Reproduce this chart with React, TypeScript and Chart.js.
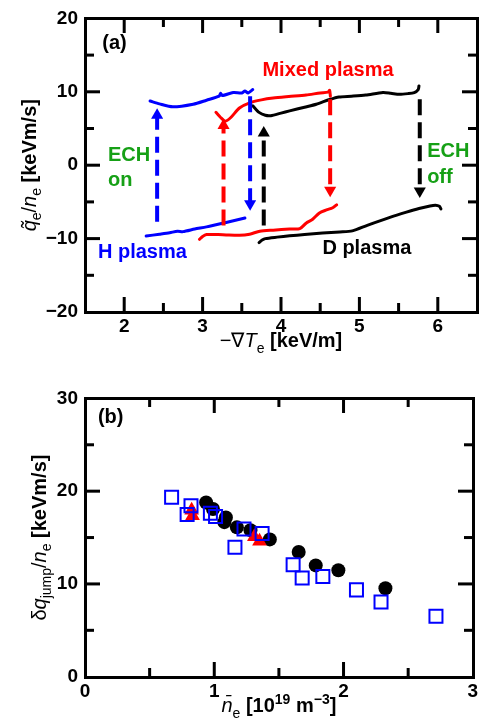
import React, { useEffect, useRef } from 'react';
import { Chart, registerables } from 'chart.js';

Chart.register(...registerables);

const FONT = '"Liberation Sans", Arial, Helvetica, sans-serif';
const BLUE = '#0000ff';
const RED = '#ff0000';
const BLACK = '#000000';
const GREEN = '#16a016';

// ---------- Panel (a): flux vs gradient curves ----------
const H_UP_X = [2.33, 2.45, 2.62, 2.88, 3.05, 3.21, 3.23, 3.25, 3.39, 3.5, 3.54, 3.58, 3.64];
const H_UP_Y = [8.75, 8.35, 7.95, 8.3, 8.85, 9.4, 9.8, 9.5, 9.9, 9.85, 10.1, 9.85, 10.3];
const H_LO_X = [2.28, 2.45, 2.58, 2.68, 2.75, 2.9, 3.05, 3.3, 3.54];
const H_LO_Y = [-9.65, -9.4, -9.2, -9.0, -9.05, -8.7, -8.4, -7.8, -7.2];
const M_UP_X = [3.17, 3.23, 3.29, 3.36, 3.47, 3.6, 3.75, 3.9, 4.1, 4.32, 4.5, 4.6, 4.62, 4.63];
const M_UP_Y = [7.2, 6.5, 6.0, 6.5, 7.8, 8.5, 8.9, 9.15, 9.35, 9.55, 9.85, 9.95, 10.2, 9.4];
const M_LO_X = [2.96, 3.0, 3.05, 3.2, 3.3, 3.47, 3.6, 3.73, 3.9, 4.11, 4.24, 4.32, 4.4, 4.49, 4.58, 4.66, 4.71];
const M_LO_Y = [-10.1, -9.7, -9.45, -9.45, -9.5, -9.55, -9.4, -9.0, -8.85, -8.7, -8.65, -7.9, -7.4, -6.5, -6.1, -5.8, -5.4];
const D_UP_X = [3.64, 3.72, 3.8, 3.87, 4.0, 4.11, 4.3, 4.45, 4.62, 4.74, 4.9, 5.08, 5.3, 5.4, 5.51, 5.62, 5.7, 5.75, 5.76];
const D_UP_Y = [8.1, 7.2, 6.8, 6.75, 7.1, 7.4, 7.9, 8.3, 8.95, 9.3, 9.4, 9.55, 9.9, 9.8, 9.65, 9.75, 9.9, 10.3, 10.8];
const D_LO_X = [3.72, 3.76, 3.8, 3.95, 4.11, 4.3, 4.53, 4.75, 4.91, 5.1, 5.38, 5.6, 5.76, 5.9, 5.97, 6.02, 6.04];
const D_LO_Y = [-10.55, -10.2, -10.0, -9.8, -9.62, -9.45, -9.25, -9.1, -8.95, -8.2, -7.15, -6.4, -5.9, -5.55, -5.45, -5.6, -5.95];

// ECH transition arrows
const ARROW_X = [2.42, 3.267, 3.606, 3.78, 4.627, 5.77];
const ARROW_FROM = [-7.7, -8.2, 9.4, -8.2, 9.0, 9.0];
const ARROW_TO = [6.8, 5.4, -5.25, 4.4, -3.4, -3.5];
const ARROW_COLOR = [BLUE, RED, BLUE, BLACK, RED, BLACK];

// ---------- Panel (b): jump vs density ----------
const H_NE = [0.67, 0.82, 0.79, 0.97, 1.01, 1.16, 1.23, 1.37, 1.61, 1.68, 1.84, 2.1, 2.29, 2.715];
const H_JUMP = [19.35, 18.42, 17.48, 17.62, 17.27, 13.95, 15.92, 15.43, 12.07, 10.63, 10.8, 9.36, 8.06, 6.51];
const D_NE = [0.937, 0.99, 1.09, 1.078, 1.175, 1.28, 1.43, 1.653, 1.785, 1.96, 2.324];
const D_JUMP = [18.78, 18.08, 17.17, 16.66, 16.1, 15.8, 14.8, 13.44, 12.0, 11.48, 9.53];
const M_NE = [0.825, 0.832, 1.31, 1.35];
const M_JUMP = [17.95, 17.35, 15.08, 14.6];

const zip = (xs: number[], ys: number[]) => xs.map((x, i) => ({ x, y: ys[i] }));
const fmtMinus = (v: number) => (v < 0 ? '\u2212' + Math.abs(v) : String(v));
const isInt = (v: number) => Math.abs(v - Math.round(v)) < 1e-6;

type Seg = { t: string; it?: boolean; b?: boolean; sub?: boolean; sup?: boolean };

function drawRich(ctx: CanvasRenderingContext2D, segs: Seg[], cx: number, cy: number, rot: number, size: number) {
  const small = Math.round(size * 0.7);
  const font = (s: Seg) => `${s.it ? 'italic ' : ''}${s.b ? 'bold ' : ''}${s.sub || s.sup ? small : size}px ${FONT}`;
  ctx.save();
  let total = 0;
  const widths = segs.map((s) => {
    ctx.font = font(s);
    const w = ctx.measureText(s.t).width;
    total += w;
    return w;
  });
  ctx.translate(cx, cy);
  ctx.rotate(rot);
  ctx.textBaseline = 'alphabetic';
  ctx.textAlign = 'left';
  ctx.fillStyle = '#000';
  let x = -total / 2;
  const base = size * 0.36;
  segs.forEach((s, i) => {
    ctx.font = font(s);
    const dy = s.sub ? size * 0.28 : s.sup ? -size * 0.42 : 0;
    ctx.fillText(s.t, x, base + dy);
    x += widths[i];
  });
  ctx.restore();
}

type Note = { text: string; x: number; y: number; color: string; align: CanvasTextAlign };

function makeDecor(opts: {
  xStep: number;
  yStep: number;
  xTitle: Seg[];
  yTitle: Seg[];
  xTitleDy: number;
  yTitleX: number;
  notes: Note[];
}) {
  return {
    id: 'decor',
    afterDraw(chart: any) {
      const ctx: CanvasRenderingContext2D = chart.ctx;
      const a = chart.chartArea;
      const xs = chart.scales.x;
      const ys = chart.scales.y;
      const L = Math.round(a.left);
      const R = Math.round(a.right);
      const T = Math.round(a.top);
      const B = Math.round(a.bottom);
      const W = 3;
      ctx.save();
      ctx.fillStyle = '#000000';
      // frame
      ctx.fillRect(L - 1, T - 1, R - L + W, W);
      ctx.fillRect(L - 1, B - 1, R - L + W, W);
      ctx.fillRect(L - 1, T - 1, W, B - T + W);
      ctx.fillRect(R - 1, T - 1, W, B - T + W);
      const MAJ = 15;
      const MIN = 9;
      for (let v = xs.min + opts.xStep; v < xs.max - 1e-9; v += opts.xStep) {
        const p = xs.getPixelForValue(v);
        const len = isInt(v / (opts.xStep * 2)) ? MAJ : MIN;
        ctx.fillRect(p - 1.5, B - len, W, len);
        ctx.fillRect(p - 1.5, T, W, len);
      }
      for (let v = ys.min + opts.yStep; v < ys.max - 1e-9; v += opts.yStep) {
        const p = ys.getPixelForValue(v);
        const len = Math.round(v) % (opts.yStep * 2) === 0 ? MAJ : MIN;
        ctx.fillRect(L, p - 1.5, len, W);
        ctx.fillRect(R - len, p - 1.5, len, W);
      }
      ctx.restore();

      drawRich(ctx, opts.xTitle, (a.left + a.right) / 2, a.bottom + opts.xTitleDy, 0, 20);
      drawRich(ctx, opts.yTitle, opts.yTitleX, (a.top + a.bottom) / 2, -Math.PI / 2, 20);

      ctx.save();
      ctx.font = `bold 20px ${FONT}`;
      ctx.textBaseline = 'middle';
      opts.notes.forEach((n) => {
        ctx.fillStyle = n.color;
        ctx.textAlign = n.align;
        ctx.fillText(n.text, xs.getPixelForValue(n.x), ys.getPixelForValue(n.y));
      });
      ctx.restore();
    },
  };
}

function baseScales(xMin: number, xMax: number, yMin: number, yMax: number, xH: number, xPad: number) {
  return {
    x: {
      type: 'linear' as const,
      min: xMin,
      max: xMax,
      grid: { display: false, drawTicks: false },
      border: { display: false },
      afterFit: (s: any) => {
        s.height = xH;
      },
      ticks: {
        stepSize: 0.5,
        autoSkip: false,
        maxRotation: 0,
        padding: xPad,
        color: '#000',
        font: { family: FONT, size: 19, weight: 'bold' as const },
        callback: (v: any) => (isInt(Number(v)) ? fmtMinus(Math.round(Number(v))) : ''),
      },
    },
    y: {
      type: 'linear' as const,
      min: yMin,
      max: yMax,
      grid: { display: false, drawTicks: false },
      border: { display: false },
      afterFit: (s: any) => {
        s.width = 85;
      },
      ticks: {
        stepSize: 5,
        autoSkip: false,
        padding: 7,
        color: '#000',
        font: { family: FONT, size: 19, weight: 'bold' as const },
        callback: (v: any) => (Math.round(Number(v)) % 10 === 0 ? fmtMinus(Math.round(Number(v))) : ''),
      },
    },
  };
}

const curve = (xs: number[], ys: number[], color: string) => ({
  data: zip(xs, ys),
  showLine: true,
  borderColor: color,
  borderWidth: 3,
  pointRadius: 0,
  tension: 0.25,
  borderCapStyle: 'round' as const,
  borderJoinStyle: 'round' as const,
  order: 5,
});

export default function App() {
  const refA = useRef<HTMLCanvasElement>(null);
  const refB = useRef<HTMLCanvasElement>(null);

  useEffect(() => {
    const arrows = ARROW_X.map((x, i) => {
      const up = ARROW_TO[i] > ARROW_FROM[i];
      return {
        data: [
          { x, y: ARROW_FROM[i] },
          { x, y: ARROW_TO[i] },
        ],
        showLine: true,
        borderColor: ARROW_COLOR[i],
        borderWidth: 4,
        borderDash: [16, 7],
        pointRadius: [0, 7],
        pointStyle: 'triangle',
        pointRotation: [0, up ? 0 : 180],
        pointBackgroundColor: ARROW_COLOR[i],
        pointBorderWidth: 0,
        order: 1,
      };
    });
    const chartA = new Chart(refA.current as HTMLCanvasElement, {
      type: 'scatter',
      data: {
        datasets: [
          ...arrows,
          curve(H_UP_X, H_UP_Y, BLUE),
          curve(H_LO_X, H_LO_Y, BLUE),
          curve(M_UP_X, M_UP_Y, RED),
          curve(M_LO_X, M_LO_Y, RED),
          curve(D_UP_X, D_UP_Y, BLACK),
          curve(D_LO_X, D_LO_Y, BLACK),
        ] as any,
      },
      options: {
        responsive: false,
        animation: false,
        events: [],
        layout: { padding: { top: 18, right: 6, left: 0, bottom: 0 } },
        plugins: { legend: { display: false }, tooltip: { enabled: false } },
        scales: baseScales(1.5, 6.5, -20, 20, 68, 3) as any,
      },
      plugins: [
        makeDecor({
          xStep: 0.5,
          yStep: 5,
          xTitle: [{ t: '\u2212\u2207' }, { t: 'T', it: true }, { t: 'e', sub: true }, { t: ' [keV/m]', b: true }],
          yTitle: [
            { t: 'q\u0303', it: true },
            { t: 'e', sub: true },
            { t: '/' },
            { t: 'n', it: true },
            { t: 'e', sub: true },
            { t: ' [keVm/s]', b: true },
          ],
          xTitleDy: 28,
          yTitleX: 28.5,
          notes: [
            { text: '(a)', x: 1.72, y: 16.6, color: BLACK, align: 'left' },
            { text: 'Mixed plasma', x: 4.6, y: 12.97, color: RED, align: 'center' },
            { text: 'ECH', x: 1.793, y: 1.27, color: GREEN, align: 'left' },
            { text: 'on', x: 1.793, y: -2.14, color: GREEN, align: 'left' },
            { text: 'ECH', x: 5.864, y: 1.81, color: GREEN, align: 'left' },
            { text: 'off', x: 5.864, y: -1.73, color: GREEN, align: 'left' },
            { text: 'H plasma', x: 1.665, y: -11.93, color: BLUE, align: 'left' },
            { text: 'D plasma', x: 4.528, y: -11.39, color: BLACK, align: 'left' },
          ],
        }),
      ],
    });

    const chartB = new Chart(refB.current as HTMLCanvasElement, {
      type: 'scatter',
      data: {
        datasets: [
          {
            data: zip(H_NE, H_JUMP),
            pointStyle: 'rect',
            pointRadius: 9.2,
            pointBackgroundColor: 'rgba(255,255,255,0)',
            pointBorderColor: BLUE,
            pointBorderWidth: 2,
            order: 0,
          },
          {
            data: zip(M_NE, M_JUMP),
            pointStyle: 'triangle',
            pointRadius: 8.5,
            pointBackgroundColor: RED,
            pointBorderWidth: 0,
            order: 1,
          },
          {
            data: zip(D_NE, D_JUMP),
            pointStyle: 'circle',
            pointRadius: 7,
            pointBackgroundColor: BLACK,
            pointBorderWidth: 0,
            order: 2,
          },
        ] as any,
      },
      options: {
        responsive: false,
        animation: false,
        events: [],
        layout: { padding: { top: 5, right: 6, left: 0, bottom: 0 } },
        plugins: { legend: { display: false }, tooltip: { enabled: false } },
        scales: baseScales(0, 3, 0, 30, 43.3, 4) as any,
      },
      plugins: [
        makeDecor({
          xStep: 0.5,
          yStep: 5,
          xTitle: [
            { t: 'n\u0304', it: true },
            { t: 'e', sub: true },
            { t: ' [10', b: true },
            { t: '19', b: true, sup: true },
            { t: ' m', b: true },
            { t: '\u22123', b: true, sup: true },
            { t: ']', b: true },
          ],
          yTitle: [
            { t: '\u03b4' },
            { t: 'q', it: true },
            { t: 'jump', sub: true },
            { t: '/' },
            { t: 'n', it: true },
            { t: 'e', sub: true },
            { t: ' [keVm/s]', b: true },
          ],
          xTitleDy: 28,
          yTitleX: 38.5,
          notes: [{ text: '(b)', x: 0.1, y: 27.9, color: BLACK, align: 'left' }],
        }),
      ],
    });

    return () => {
      chartA.destroy();
      chartB.destroy();
    };
  }, []);

  return (
    <div style={{ position: 'absolute', left: 0, top: 0, width: 484, height: 720, background: '#fff' }}>
      <canvas ref={refA} width={484} height={380} style={{ position: 'absolute', left: 0, top: 0, width: 484, height: 380 }} />
      <canvas ref={refB} width={484} height={340} style={{ position: 'absolute', left: 0, top: 380, width: 484, height: 340 }} />
    </div>
  );
}
